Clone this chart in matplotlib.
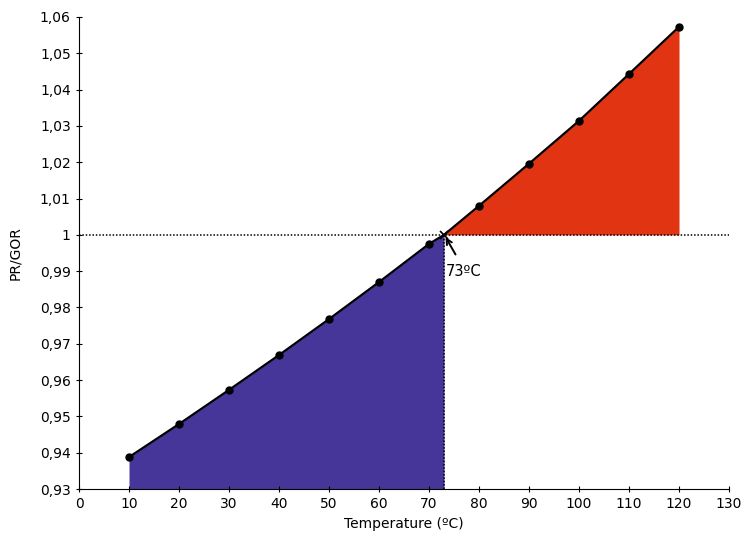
import matplotlib.pyplot as plt
import numpy as np

# Data
temp = [10, 20, 30, 40, 50, 60, 70, 80, 90, 100, 110, 120]
ratio = [0.9388, 0.9479, 0.9573, 0.9669, 0.9768, 0.9870, 0.9975,
         1.0080, 1.0196, 1.0314, 1.0443, 1.0573]
cross_t = 73
cross_r = 1.0

xticks = list(range(0, 131, 10))
yticks = [0.93, 0.94, 0.95, 0.96, 0.97, 0.98, 0.99, 1.0, 1.01, 1.02, 1.03, 1.04, 1.05, 1.06]
ytick_labels = ['0,93', '0,94', '0,95', '0,96', '0,97', '0,98', '0,99', '1',
                '1,01', '1,02', '1,03', '1,04', '1,05', '1,06']

blue = '#46369a'
red = '#e03413'

# curve including the crossover point
lo_t = [t for t in temp if t < cross_t] + [cross_t]
lo_r = [r for t, r in zip(temp, ratio) if t < cross_t] + [cross_r]
hi_t = [cross_t] + [t for t in temp if t > cross_t]
hi_r = [cross_r] + [r for t, r in zip(temp, ratio) if t > cross_t]

fig = plt.figure(figsize=(7.42, 5.43), dpi=100)
ax = fig.add_axes([0.1065, 0.0994, 0.876, 0.8693])

ax.fill_between(lo_t, lo_r, 0.93, color=blue, lw=0)
ax.fill_between(hi_t, hi_r, cross_r, color=red, lw=0)

ax.axhline(1.0, color='black', ls=(0, (1, 1.2)), lw=1.1)
ax.plot([cross_t, cross_t], [0.93, cross_r], color='black', ls=(0, (1, 1.2)), lw=1.1)

ax.plot(lo_t + hi_t[1:], lo_r + hi_r[1:], color='black', lw=1.6, zorder=3)
ax.plot(temp, ratio, 'o', color='black', ms=5, zorder=4)
ax.plot([cross_t], [cross_r], 'x', color='black', ms=6, mew=1.2, zorder=4)

# arrow and label for the crossover temperature
ax.annotate('', xy=(cross_t + 0.3, cross_r - 0.0006), xytext=(75.3, 0.9946),
            arrowprops=dict(arrowstyle='->', color='black', lw=1.4,
                            shrinkA=0, shrinkB=0))
ax.text(73.3, 0.9898, '73ºC', fontsize=10.5, va='center', ha='left')

ax.set_xlim(0, 130)
ax.set_ylim(0.93, 1.06)
ax.set_xticks(xticks)
ax.set_yticks(yticks)
ax.set_yticklabels(ytick_labels)
ax.tick_params(direction='inout', length=5, labelsize=10)

for s in ['top', 'right']:
    ax.spines[s].set_visible(False)

ax.set_xlabel('Temperature (ºC)', fontsize=10)
ax.set_ylabel('PR/GOR', fontsize=10)
ax.yaxis.set_label_coords(-0.088, 0.5)

fig.savefig('out.png', dpi=100)
